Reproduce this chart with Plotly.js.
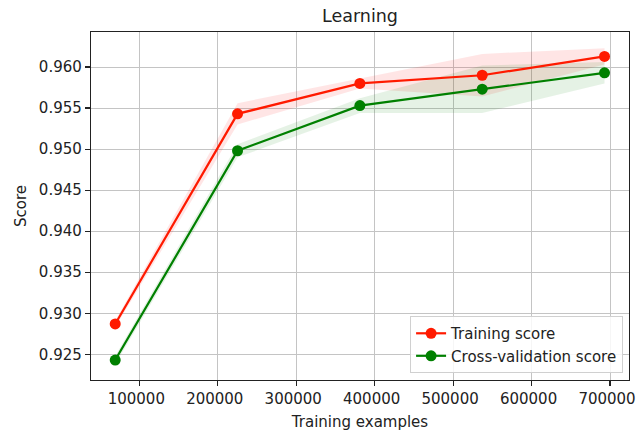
<!DOCTYPE html>
<html>
<head>
<meta charset="utf-8">
<script src="https://cdn.plot.ly/plotly-3.0.1.min.js"></script>
<style>
  html, body { margin: 0; padding: 0; background: #fff; }
  #chart { width: 637px; height: 433px; }
</style>
</head>
<body>
<div id="chart"></div>
<script>
// Data
const trainSizes = [69300, 225225, 381150, 537075, 693000];
const trainMean  = [0.9287, 0.9543, 0.9580, 0.9590, 0.9613];
const trainStd   = [0.0004, 0.0013, 0.0006, 0.0026, 0.0010];
const cvMean     = [0.9243, 0.9498, 0.9553, 0.9573, 0.9593];
const cvStd      = [0.0005, 0.0008, 0.0009, 0.0029, 0.0013];
const yTicks     = [0.925, 0.930, 0.935, 0.940, 0.945, 0.950, 0.955, 0.960];
const xTicks     = [100000, 200000, 300000, 400000, 500000, 600000, 700000];

const RED = '#ff1a00';
const GREEN = '#008000';

const trainUpper = trainMean.map((v, i) => v + trainStd[i]);
const trainLower = trainMean.map((v, i) => v - trainStd[i]);
const cvUpper = cvMean.map((v, i) => v + cvStd[i]);
const cvLower = cvMean.map((v, i) => v - cvStd[i]);

const traces = [
  { x: trainSizes, y: trainLower, mode: 'lines', line: {width: 0, color: RED},
    showlegend: false, hoverinfo: 'skip' },
  { x: trainSizes, y: trainUpper, mode: 'lines', line: {width: 0, color: RED},
    fill: 'tonexty', fillcolor: 'rgba(255,0,0,0.1)', showlegend: false, hoverinfo: 'skip' },
  { x: trainSizes, y: cvLower, mode: 'lines', line: {width: 0, color: GREEN},
    showlegend: false, hoverinfo: 'skip' },
  { x: trainSizes, y: cvUpper, mode: 'lines', line: {width: 0, color: GREEN},
    fill: 'tonexty', fillcolor: 'rgba(0,128,0,0.1)', showlegend: false, hoverinfo: 'skip' },
  { x: trainSizes, y: trainMean, mode: 'lines+markers', name: 'Training score',
    line: {color: RED, width: 2.2}, marker: {color: RED, size: 11, symbol: 'circle'} },
  { x: trainSizes, y: cvMean, mode: 'lines+markers', name: 'Cross-validation score',
    line: {color: GREEN, width: 2.2}, marker: {color: GREEN, size: 11, symbol: 'circle'} }
];

const axisCommon = {
  showline: true, mirror: true, linecolor: '#222', linewidth: 1.2,
  ticks: 'outside', ticklen: 5, tickwidth: 1.2, tickcolor: '#222',
  showgrid: true, gridcolor: '#c4c4c4', gridwidth: 1,
  zeroline: false,
  tickfont: {family: 'DejaVu Sans', size: 15, color: '#222'}
};

const layout = {
  width: 637, height: 433,
  margin: {l: 91, r: 8, t: 32, b: 53},
  paper_bgcolor: '#fff', plot_bgcolor: '#fff',
  font: {family: 'DejaVu Sans', color: '#222'},
  title: {text: 'Learning', font: {family: 'DejaVu Sans', size: 17.5, color: '#222'},
          x: 0.5, xanchor: 'center', xref: 'paper', y: 0.963, yanchor: 'middle'},
  xaxis: Object.assign({}, axisCommon, {
    range: [38430, 724200], tickvals: xTicks, ticktext: xTicks.map(String),
    ticklabeloverflow: 'allow', ticklabelshift: -3,
    title: {text: 'Training examples', font: {family: 'DejaVu Sans', size: 15, color: '#222'}, standoff: 9}
  }),
  yaxis: Object.assign({}, axisCommon, {
    range: [0.92187, 0.96427], tickvals: yTicks, ticktext: yTicks.map(v => v.toFixed(3)),
    title: {text: 'Score', font: {family: 'DejaVu Sans', size: 15, color: '#222'}, standoff: 8}
  }),
  showlegend: true,
  legend: {
    x: 0.989, y: 0.02, xanchor: 'right', yanchor: 'bottom',
    traceorder: 'normal',
    bgcolor: 'rgba(255,255,255,0.85)', bordercolor: '#d0d0d0', borderwidth: 1,
    font: {family: 'DejaVu Sans', size: 15, color: '#222'},
    tracegroupgap: 0
  }
};

Plotly.newPlot('chart', traces, layout, {displayModeBar: false, staticPlot: true});
</script>
</body>
</html>
